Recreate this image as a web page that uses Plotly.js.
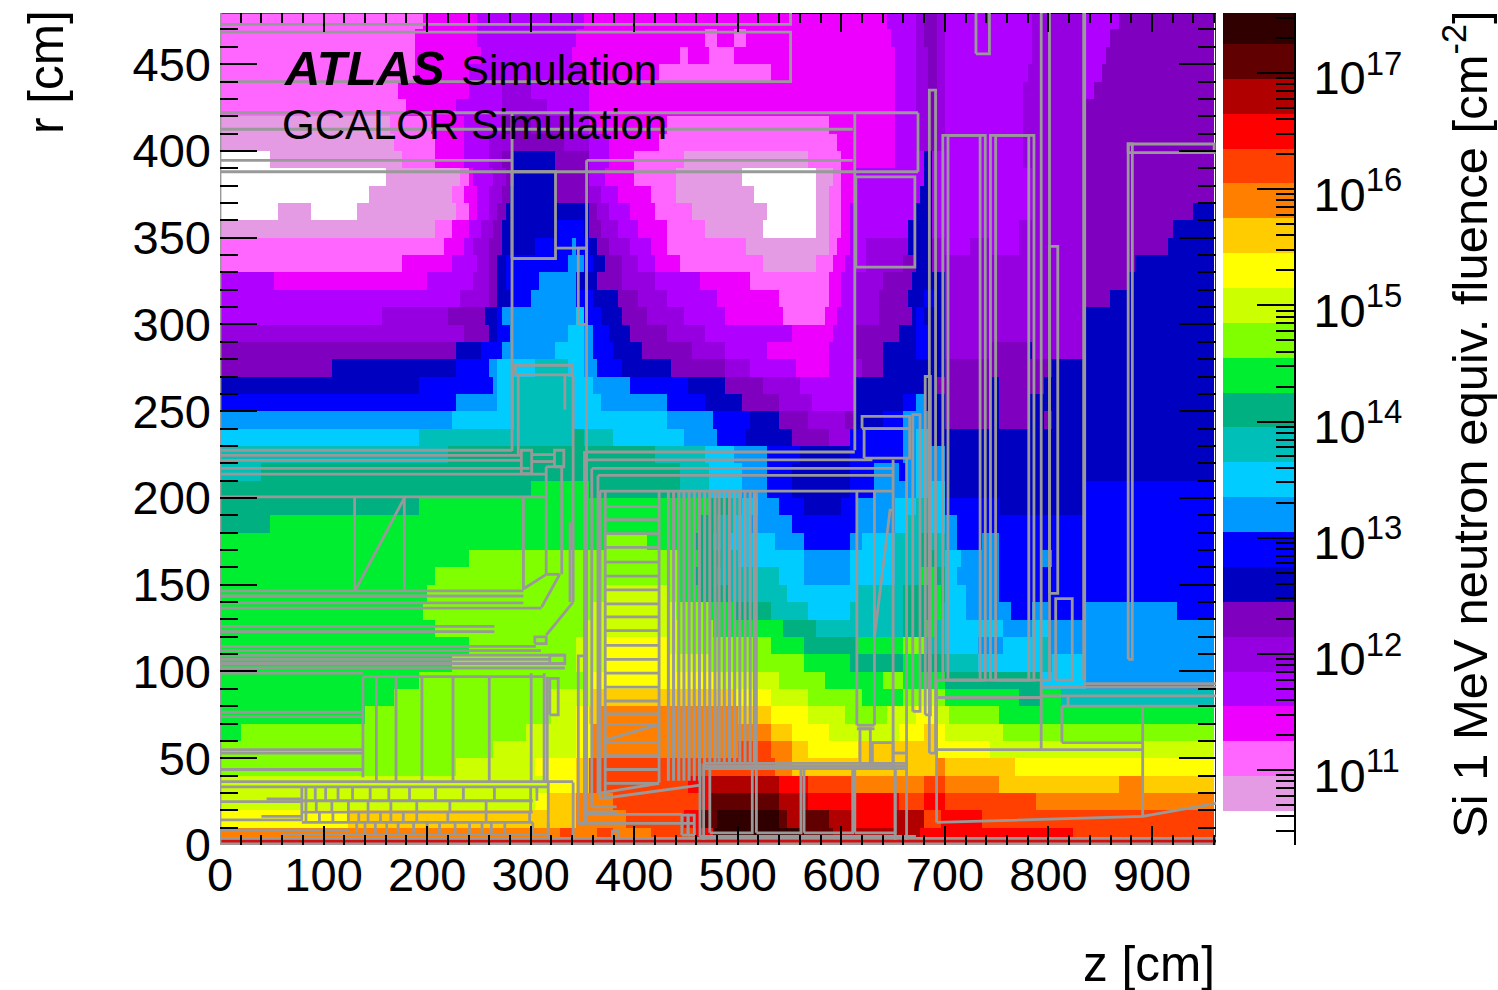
<!DOCTYPE html>
<html><head><meta charset="utf-8">
<script src="https://cdn.plot.ly/plotly-3.0.1.min.js"></script>
<style>html,body{margin:0;padding:0;background:#fff}#plot{width:1498px;height:990px}</style>
</head><body><div id="plot"></div>
<script>
// Colour bands, lowest to highest fluence, one letter each (a..w); "." = below the lowest band (white)
const bandColors = ["#e59ae4","#ff66ff","#ee00ff","#b000ff","#9600e0","#8000c0","#0000c0","#0000ff","#0099ff","#00ccff","#00bfb8","#00b080","#00ee30","#80ff00","#ccff00","#ffff00","#ffcc00","#ff8000","#ff4000","#ff0000","#b00000","#600000","#300000"];
const bandLetters = "abcdefghijklmnopqrstuvw";
const lowestBandEdge = 10.65, bandWidth = 0.3;

// Fluence band read along each r row (r centre in key): letter + z (cm) where the run ends
const r470="b196 c248 d350 c644 d673 e680 f690 e700 d782 e837 d869 f962";
const r460="b188 c248 d345 c466 b478 c497 b507 c648 d673 e680 f690 e700 d782 e837 d860 f962";
const r450="b188 c250 d340 c444 b451 c473 b495 c652 d673 e682 f690 e700 d782 e835 d855 f962";
const r440="b186 c241 d352 c425 b530 c652 d673 e682 f690 e700 d778 e835 d850 f962";
const r430="b171 c238 d270 e298 d354 c652 d673 e682 f690 e700 d775 e835 d845 f962";
const r420="b178 c228 d270 e315 d354 c650 d673 e682 f690 e700 d775 e835 f962";
const r410="a165 b203 c235 d270 f300 e340 d354 c431 b586 c652 d673 e682 f690 e700 d775 e835 f962";
const r400="a169 b206 c235 d258 e282 f333 e354 d376 c422 b597 c650 d673 e682 f690 e700 d775 e835 f962";
const r390=".48 a175 b208 c235 d258 e270 f282 g323 f354 d376 c400 b447 a566 b600 c650 d678 g686 d775 e835 f962";
const r380=".160 a232 b238 c245 d262 e275 f283 g325 f354 d373 c400 b439 a502 .576 a592 b600 c611 d678 g686 d782 e835 f962";
const r370=".145 a222 b235 c248 d260 e270 f280 g325 f354 e366 d385 c415 b441 a514 .576 a589 b600 c610 d675 g686 d782 e835 f962";
const r360=".55 a87 .130 a229 b240 c248 d258 e268 f277 g354 f362 e375 d395 c418 b455 a528 .576 a589 b600 c609 d670 g686 d782 e835 f938 g962";
const r350="a206 b225 c240 d250 e262 f273 g323 h350 g354 f368 e385 d405 c430 b466 a525 .576 a589 b600 c608 d665 g686 d770 e835 f920 g962";
const r340="b215 c235 d244 e258 f270 g302 h338 i345 h354 g362 f375 e395 d415 c432 b508 a589 b597 c608 d625 e665 g686 e700 d725 e745 d770 e835 f914 g962";
const r330="b175 c225 d248 e258 f268 g275 h335 i350 h358 g372 f389 e405 d420 c445 b524 a576 b592 c603 d625 e660 f670 g686 e835 f883 g962";
const r320="d51 c200 d244 e258 f267 g275 h309 i345 g365 f389 e418 d463 c512 b586 c601 d611 e640 f669 g698 e835 f875 g962";
const r310="d232 e258 f267 g278 h300 i345 h358 g383 f402 e431 d480 c538 b586 c601 d611 e635 f665 g680 h690 g698 e835 f860 g962";
const r300="d157 e219 f254 g267 h273 i345 j350 h369 g389 f412 e447 d489 c543 b582 c596 d611 e637 f666 g673 h680 g698 e835 g962";
const r290="e235 f258 g267 h280 i335 j350 i358 h376 g396 f431 e466 d550 c592 d611 f656 g673 h685 g698 e835 g962";
const r280="f229 g251 h273 i325 j350 i358 h379 g408 f454 e486 d528 c589 d611 f640 g673 h685 g698 e745 f780 g785 e835 g962";
const r270="f109 g229 h258 i269 j303 k335 j350 i365 h389 g437 f486 e512 d557 c589 d611 e618 f638 g698 f805 g962";
const r260="g190 h264 i268 j282 k340 j360 i396 h451 g489 f524 e560 d611 g690 f745 g750 f795 g962";
const r250="h229 i267 j282 k340 j369 i431 h466 g502 f538 e572 d611 g661 h673 i680 g698 f745 g750 f780 g962";
const r240="i225 j282 k340 j431 i476 h512 g540 f566 e605 f611 g640 h660 i685 g698 f745 g750 f780 g795 f805 g962";
const r230="j190 k340 l350 k381 j447 i480 h508 g550 f586 e608 h660 i670 j685 g962";
const r220="k219 l418 k466 j497 i526 h560 g608 h660 i670 j685 i698 g962";
const r210="k40 l444 k471 j502 i529 h553 g608 h632 i655 h665 i670 j685 i698 g962";
const r200="l300 m354 l444 k471 j502 i529 h553 g608 h632 i670 j698 g835 h962";
const r190="l190 m470 l490 k505 j518 i538 h565 g601 h615 i650 j670 k682 j698 h750 g835 h962";
const r180="l48 m465 l480 k495 j510 i550 h615 i650 j665 k685 j698 i712 h962";
const r170="m373 n410 m460 l475 k490 j534 i563 h608 i620 j650 k675 l685 k698 i712 h735 i750 h962";
const r160="m238 n445 m465 l485 k500 j563 i608 j650 k675 l690 k698 j715 i752 h790 i802 h962";
const r150="m206 n445 m460 l480 k538 j563 i608 j650 k675 m690 l698 j712 i752 h962";
const r140="m200 n371 o430 n445 m465 l490 k547 j615 k660 l685 m695 l698 j718 i752 h962";
const r130="m195 n360 o440 n470 m495 l531 k566 j608 k660 l685 m695 k698 j718 i762 h785 i800 h835 i924 h962";
const r120="m206 n350 o445 n475 m543 l576 k660 l680 m690 k698 j755 i785 j800 i962";
const r110="m238 n345 o372 p431 o445 n531 m563 l615 m660 n680 k698 j730 i755 j790 k800 i962";
const r100="m224 n345 o372 p440 o470 n563 m608 l660 m675 l698 k730 j790 k805 j835 i962";
const r90="m193 n350 o360 p480 o538 n582 m640 n660 m698 l792 j835 i962";
const r80="m167 n319 o358 q495 p531 o566 n620 m660 n675 o690 n700 m770 l792 m810 k962";
const r70="m138 n319 o344 p354 q362 r500 q531 p566 o605 n645 o670 p690 o705 n750 m962";
const r60="m19 n297 o344 p358 r531 q550 p586 o655 p680 q690 p700 o756 n962";
const r50="n264 o344 p358 r500 s531 r550 q566 p615 q690 p745 o962";
const r40="n229 o302 p344 q354 s535 r550 q690 r700 q769 p962";
const r30="o317 p344 q354 s450 t473 u538 t566 s611 r680 s700 r753 q866 r891 q962";
const r20="o302 p317 q344 r380 s465 t473 v538 u566 t655 s680 t700 s789 r962";
const r10="p125 q342 r391 s446 t463 v480 w538 v547 u560 v586 u611 t650 u680 s695 t734 s962";
const r0="r328 s340 r364 s378 r417 s460 t475 w560 v590 u674 t823 s962";
const fluenceRows=[r0,r10,r20,r30,r40,r50,r60,r70,r80,r90,r100,r110,r120,r130,r140,r150,r160,r170,r180,r190,r200,r210,r220,r230,r240,r250,r260,r270,r280,r290,r300,r310,r320,r330,r340,r350,r360,r370,r380,r390,r400,r410,r420,r430,r440,r450,r460,r470];

// Detector outlines (cm): rectangles [z0,r0,z1,r1]
const detectorRects=[[0,473,551,480],[0,440,551,468.5],[282,338,324,388],[614,333,671,385],[730,456,743,480],[685,53,691,435],[698,95,739,409],[703,95,734,409],[744,95,786,409],[749,95,781,409],[793,95,801,480],[801,145,809,345],[877,107,881,404],[877,399,960,404],[807,95,823,142],[285,271,340,276.5],[346,12.5,352,109],[346,300,354,344],[291,214,301,227.5],[323,218,332,227.5],[304,116,315,120],[318.5,104.6,333,109.4],[318.5,75,326.6,96],[446,5.7,452,17.2],[452,5.7,458,17.2],[379,4,385,8],[473,7,514,44],[518,7,561,44],[564,7,611,44],[613,7,652,44],[618,47,628,67],[630,47,650,59],[620,240,666,247],[622,223,666,240],[669,77,676,248],[681,75,686,270]];
// Horizontal lines [r,z0,z1]
const detectorH=[[422,0,674],[412.5,0,611],[394.6,0,282],[394.6,354,611],[388,0,674],[344,324,354],[227.5,0,282],[226.5,353,613],[224.6,0,291],[222,353,630],[221.7,0,291],[225,301,323],[221,301,323],[218,315,330],[217,359,650],[217,0,299],[213.7,0,315],[213,365,650],[204,367,650],[200.6,0,315],[156,315,328],[146.5,0,293],[143.5,0,293],[139.5,0,293],[136.5,0,310.5],[126,0,265],[123,0,265],[114.5,0,305],[112,0,310],[109.4,0,333],[107,0,318.5],[104.6,0,318.5],[102,0,333],[99,0,138],[97,138,314],[76.5,0,138],[74,0,138],[55,0,138],[53,0,138],[43.5,0,138],[36.5,0,341],[33.5,0,317],[26.5,45,79],[25,0,79],[16.5,40,79],[14.5,0,79],[8.5,0,125],[25.5,79,302],[19,79,302],[13,79,302],[6,60,317],[17.6,354,446],[12.5,346,458],[22,359,383],[19,355,383],[3.8,0,962],[0.6,0,962],[5,463,672],[44,467,663],[45.5,467,663],[47,467,663],[95,691,793],[85,692,793],[93,834,962],[91,793,962],[86,793,962],[80,813,962],[59,813,891],[55,692,891],[69,615,632],[67,615,632],[53,650,663]];
// Vertical lines [z,r0,r1]
const detectorV=[[282,227,422],[354,12.5,394.6],[352,12.5,227],[613,227.5,422],[674,388,422],[359,22,217],[365,30,213],[367,26,204],[372,26,204],[424,36,204],[130,146,200],[178,146,200],[293,147,200],[315,156,218],[330,156,218],[338,140,186],[341,140,271],[333,251,271],[288,225,271],[138,39,97],[151,37,97],[170,37,97],[195,37,97],[225,37,97],[260,37,97],[300.5,36.5,99],[313,36.5,99],[316,36.5,97],[79,14,33],[317,3.8,36.5],[341,3.8,36],[463.5,4.8,47],[467,3,47],[652,3,44],[663,3,223],[650,44,222],[518,46,204],[615,69,204],[632,69,204],[692,13,95],[834,95,480],[835,95,480],[793,55,95],[813,59,80],[891,16.5,80],[819,80,86]];
// Sloped and multi-point paths [[z,r],...]
const detectorPaths=[[[692,13],[891,16.5],[962,24]],[[130,146],[178,200]],[[294,148],[315,156]],[[328,156],[310.5,137]],[[341,140],[315,121]],[[372,60.4],[424,69.5]],[[365,29.7],[424,35.5]],[[369,26.8],[464,34.5]],[[632,120],[647,193],[650,193]]];
// Divider positions inside the barrel cells
const cellRow1Z=[83,92,102,114,128,145,163,183,208,235,265,300,306];
const cellRow2Z=[83,93,108,124,143,165,190,222,257,300];
const cellRow3Z=[83,96,109,124,134,143,155,165,177,190,220,257,299];
const cellRow4Z=[132,140,150,161,172,187,200,212,227,241,253,262,275,302,317];
// Ladder rungs (r) and fine vertical plates (z)
const ladderR=[195,187.5,179.5,171.5,163,155,147,139,131.5,123.5,115,107,99,91,83,75.5,69.5,59,51.5,43.5,35.5];
const plateZ=[433,438,443,448,453,458,463,468,473,478,482,487,492,497,502,507,512,516];

// Axes and labels
const xTickVals=[0,100,200,300,400,500,600,700,800,900];
const yTickVals=[0,50,100,150,200,250,300,350,400,450];
const cbTickExp=[11,12,13,14,15,16,17];
const cbTickText=cbTickExp.map(e=>"10<sup>"+e+"</sup>");

const W=1498,H=990;
const px={l:220,r:1216,t:13,b:845,cl:1223,cr:1294};
const binW=4;
const xc=[];for(let z=binW/2;z<962;z+=binW)xc.push(z);
const yc=fluenceRows.map((_,i)=>5+10*i);
const bandMid=i=>lowestBandEdge+bandWidth*(i+0.5);
const zGrid=fluenceRows.map(row=>{
  const runs=row.split(" ").map(s=>[s[0],parseFloat(s.slice(1))]);
  return xc.map(z=>{
    const run=runs.find(r=>r[1]>=z)||runs[runs.length-1];
    const idx=bandLetters.indexOf(run[0]);
    return idx<0?null:bandMid(idx);
  });
});
const zMin=lowestBandEdge,zMax=lowestBandEdge+bandWidth*bandColors.length;
const colorscale=[];
bandColors.forEach((c,i)=>{colorscale.push([i/bandColors.length,c]);colorscale.push([(i+1)/bandColors.length,c]);});

// Flatten detector geometry
const gx=[],gy=[];
const add=pts=>{pts.forEach(p=>{gx.push(p[0]);gy.push(p[1]);});gx.push(null);gy.push(null);};
detectorRects.forEach(a=>add([[a[0],a[1]],[a[2],a[1]],[a[2],a[3]],[a[0],a[3]],[a[0],a[1]]]));
detectorH.forEach(a=>add([[a[1],a[0]],[a[2],a[0]]]));
detectorV.forEach(a=>add([[a[0],a[1]],[a[0],a[2]]]));
detectorPaths.forEach(add);
cellRow1Z.forEach(z=>add([[z,25.5],[z,33.5]]));
cellRow2Z.forEach(z=>add([[z,19],[z,25.5]]));
cellRow3Z.forEach(z=>add([[z,13],[z,19]]));
cellRow4Z.forEach(z=>add([[z,6],[z,13]]));
ladderR.forEach(r=>add([[372,r],[424,r]]));
const plateX=[],plateY=[];
plateZ.forEach((z,i)=>{plateX.push(z,z,null);plateY.push(i<7?37:47,204,null);});

const logMinor=[];
for(let e=10;e<=17;e++)[2,3,4,5,6,7,8,9].forEach(d=>logMinor.push(e+Math.log10(d)));

const font={family:"'Liberation Sans',Arial,sans-serif",color:"#000"};
const traces=[
 {type:"heatmap",x:xc,y:yc,z:zGrid,zmin:zMin,zmax:zMax,colorscale,showscale:false,hoverinfo:"skip",xaxis:"x",yaxis:"y"},
 {type:"scatter",mode:"lines",x:[0,962],y:[2,2],line:{color:"#d01010",width:4},hoverinfo:"skip",xaxis:"x",yaxis:"y"},
 {type:"scatter",mode:"lines",x:[0,962,962],y:[479.5,479.5,0],line:{color:"#000",width:2},cliponaxis:false,hoverinfo:"skip",xaxis:"x",yaxis:"y"},
 {type:"scatter",mode:"lines",x:plateX,y:plateY,line:{color:"#999999",width:3},connectgaps:false,hoverinfo:"skip",xaxis:"x",yaxis:"y"},
 {type:"scatter",mode:"lines",x:gx,y:gy,line:{color:"#999999",width:2.8},connectgaps:false,cliponaxis:false,hoverinfo:"skip",xaxis:"x",yaxis:"y"},
 {type:"scatter",mode:"lines",x:[0,0,962],y:[479.5,0,0],line:{color:"#999999",width:2.8},cliponaxis:false,hoverinfo:"skip",xaxis:"x",yaxis:"y"},
 {type:"heatmap",x:[0],y:bandColors.map((_,i)=>bandMid(i)),z:bandColors.map((_,i)=>[bandMid(i)]),zmin:zMin,zmax:zMax,colorscale,showscale:false,hoverinfo:"skip",xaxis:"x2",yaxis:"y2"}
];
const layout={
 width:W,height:H,margin:{l:0,r:0,t:0,b:0},paper_bgcolor:"#fff",plot_bgcolor:"#fff",showlegend:false,hovermode:false,
 font:Object.assign({size:47},font),
 xaxis:{domain:[px.l/W,px.r/W],range:[0,961.8],anchor:"y",tickmode:"array",tickvals:xTickVals,ticks:"inside",ticklen:19,tickwidth:2,tickcolor:"#000",mirror:"ticks",showgrid:false,zeroline:false,showline:false,ticklabelstandoff:-2,
  minor:{tickmode:"array",tickvals:[20,40,60,80,120,140,160,180,220,240,260,280,320,340,360,380,420,440,460,480,520,540,560,580,620,640,660,680,720,740,760,780,820,840,860,880,920,940,960],ticks:"inside",ticklen:10,tickwidth:2,tickcolor:"#000",showgrid:false},
  tickfont:Object.assign({size:47},font)},
 yaxis:{domain:[(H-px.b)/H,(H-px.t)/H],range:[0,479.5],anchor:"x",tickmode:"array",tickvals:yTickVals,ticks:"inside",ticklen:37,tickwidth:2,tickcolor:"#000",mirror:"ticks",showgrid:false,zeroline:false,showline:false,ticklabelstandoff:8,
  minor:{tickmode:"array",tickvals:[10,20,30,40,60,70,80,90,110,120,130,140,160,170,180,190,210,220,230,240,260,270,280,290,310,320,330,340,360,370,380,390,410,420,430,440,460,470],ticks:"inside",ticklen:18,tickwidth:2,tickcolor:"#000",showgrid:false},
  tickfont:Object.assign({size:47},font)},
 xaxis2:{domain:[px.cl/W,px.cr/W],range:[-0.5,0.5],anchor:"y2",visible:false,fixedrange:true},
 yaxis2:{domain:[(H-px.b)/H,(H-px.t)/H],range:[10.355,17.516],anchor:"x2",side:"right",tickmode:"array",tickvals:cbTickExp,ticktext:cbTickText,ticks:"inside",ticklen:37,tickwidth:2,tickcolor:"#000",showline:true,linecolor:"#000",linewidth:2,showgrid:false,zeroline:false,ticklabelstandoff:8,ticklabelshift:5,
  minor:{tickmode:"array",tickvals:logMinor,ticks:"inside",ticklen:18,tickwidth:2,tickcolor:"#000",showgrid:false},
  tickfont:Object.assign({size:47},font)},
 annotations:[
  {xref:"paper",yref:"paper",x:1217/W,y:1-963/H,xanchor:"right",yanchor:"middle",text:"z [cm]",showarrow:false,font:Object.assign({size:49.5},font)},
  {xref:"paper",yref:"paper",x:45/W,y:1-8/H,xanchor:"center",yanchor:"top",textangle:-90,text:"r [cm]",showarrow:false,font:Object.assign({size:49.5},font)},
  {xref:"paper",yref:"paper",x:1466/W,y:1-8/H,xanchor:"center",yanchor:"top",textangle:-90,text:"Si 1 MeV neutron equiv. fluence [cm<sup>-2</sup>]",showarrow:false,font:Object.assign({size:49},font)},
  {xref:"paper",yref:"paper",x:282/W,y:1-68/H,xanchor:"left",yanchor:"middle",text:"<b><i>ATLAS</i></b>",showarrow:false,font:Object.assign({size:49},font)},
  {xref:"paper",yref:"paper",x:459/W,y:1-70/H,xanchor:"left",yanchor:"middle",text:"Simulation",showarrow:false,font:Object.assign({size:42},font)},
  {xref:"paper",yref:"paper",x:280/W,y:1-124/H,xanchor:"left",yanchor:"middle",text:"GCALOR Simulation",showarrow:false,font:Object.assign({size:42},font)}
 ]
};
Plotly.newPlot("plot",traces,layout,{displayModeBar:false,staticPlot:true});
</script></body></html>
